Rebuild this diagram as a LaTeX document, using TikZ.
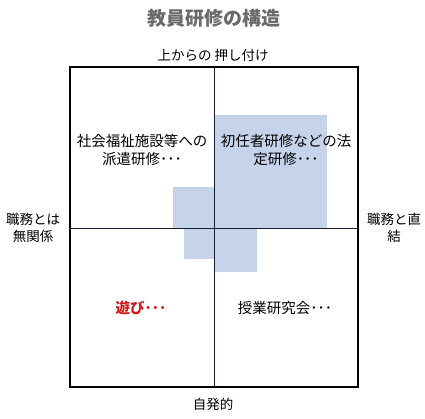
\documentclass[tikz,border=0pt]{standalone}
\usepackage{fontspec}
\setmainfont{Noto Sans CJK JP}
\newfontfamily\jpfont{Noto Sans CJK JP}
\definecolor{fillblue}{HTML}{C6D4EB}
\definecolor{titlegray}{HTML}{6A6A6A}
\definecolor{asobired}{HTML}{D01818}
\definecolor{innerline}{HTML}{141C30}
\begin{document}
\begin{tikzpicture}[x=1pt,y=-1pt,
  lbl/.style={font=\jpfont\fontsize{13.5}{17}\selectfont, align=center, inner sep=0pt},
  blk/.style={fill=fillblue, draw=none}]
\useasboundingbox (0,0) rectangle (425,418);
\fill[white] (0,0) rectangle (425,418);
% blue areas
\fill[blk] (214,115) rectangle (327,228);
\fill[blk] (173,187) rectangle (214,228);
\fill[blk] (184,228) rectangle (214,259);
\fill[blk] (214,228) rectangle (257,272);
% frame and axes
\node[draw=black, line width=2pt, minimum width=288pt, minimum height=320pt, inner sep=0pt] (frame) at (214,227) {};
\coordinate (vt) at (214,67);
\coordinate (vb) at (214,387);
\coordinate (hl) at (70,228);
\coordinate (hr) at (358,228);
\draw[innerline, line width=0.9pt] (vt) -- (vb);
\draw[innerline, line width=0.9pt] (hl) -- (hr);
% texts
\node[font=\jpfont\bfseries\fontsize{19}{22}\selectfont, text=titlegray] (title) at (214,18) {教員研修の構造};
\node[lbl] (top) at (213,55) {上からの\hspace{3pt}押し付け};
\node[lbl] (bottom) at (213,404) {自発的};
\node[lbl] (left) at (33,228) {職務とは\\無関係};
\node[lbl] (right) at (394,228) {職務と直\\結};
\node[lbl, font=\jpfont\fontsize{14.5}{18}\selectfont] (q2) at (142,150) {社会福祉施設等への\\派遣研修･･･};
\node[lbl, font=\jpfont\fontsize{14.5}{18}\selectfont] (q1) at (286,150) {初任者研修などの法\\定研修･･･};
\node[lbl, font=\jpfont\bfseries\fontsize{14.5}{18}\selectfont, text=asobired] (q3) at (141,308) {遊び･･･};
\node[lbl, font=\jpfont\fontsize{14.5}{18}\selectfont] (q4) at (285,308) {授業研究会･･･};
\end{tikzpicture}
\end{document}
